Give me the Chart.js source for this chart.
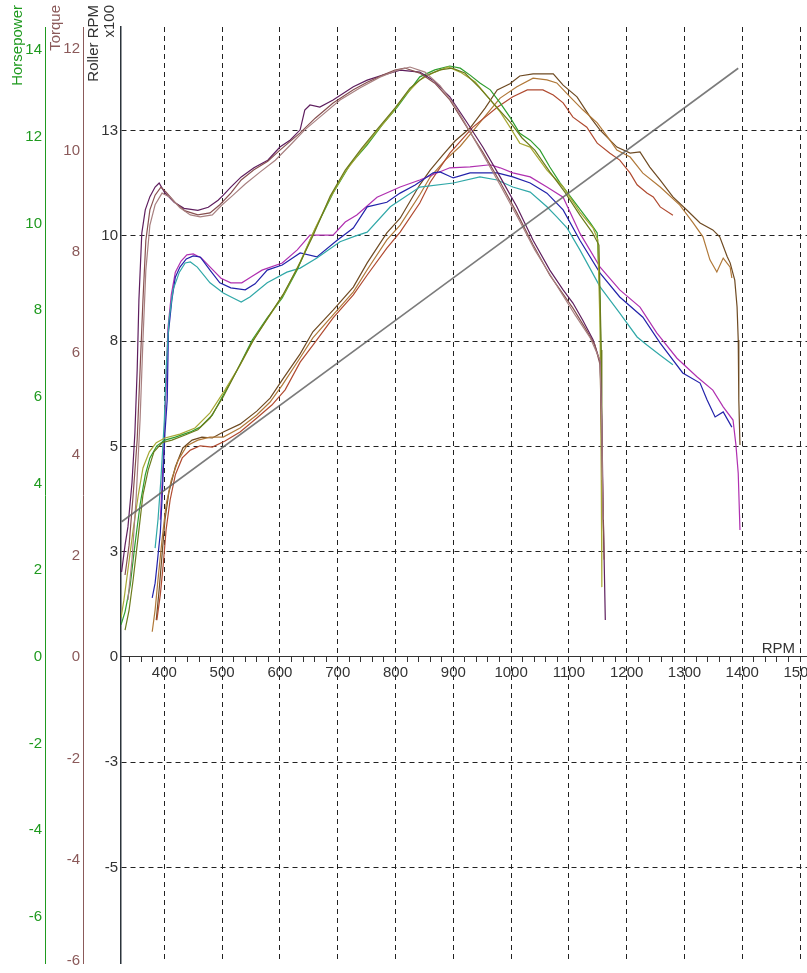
<!DOCTYPE html>
<html>
<head>
<meta charset="utf-8">
<title>Dyno run</title>
<script src="https://cdn.jsdelivr.net/npm/chart.js@4/dist/chart.umd.min.js"></script>
<style>
html, body { margin: 0; padding: 0; background: #fff; overflow: hidden; }
#wrap { width: 807px; height: 973px; }
</style>
</head>
<body>
<div id="wrap"><canvas id="dyno"></canvas></div>
<script>
/* axis ticks */
var rpmMajor = [400, 500, 600, 700, 800, 900, 1000, 1100, 1200, 1300, 1400, 1500];
var rollerTicks = [-5, -2.5, 0, 2.5, 5, 7.5, 10, 12.5];
var hpTicks = [-6, -4, -2, 0, 2, 4, 6, 8, 10, 12, 14];
var tqTicks = [-6, -4, -2, 0, 2, 4, 6, 8, 10, 12];

/* run 1 torque */
var rpmTqPurple = [326,332,337,344,349,353,356,361,367,375,384,391,400,417,434,458,476,493,502,515,533,555,579,600,618,635,643,652,669,692,727,751,778,808,842,865,894,924,951,981,1010,1038,1067,1090,1107,1124,1142,1154,1157,1159,1163];
var tqPurple = [1.68,2.21,2.57,3.44,4.42,5.67,7.05,8.37,8.83,9.09,9.28,9.36,9.18,8.98,8.86,8.82,8.88,9.02,9.12,9.28,9.48,9.66,9.81,10.07,10.21,10.41,10.80,10.90,10.86,11.00,11.26,11.39,11.49,11.59,11.55,11.39,11.06,10.55,10.07,9.48,8.89,8.23,7.64,7.25,6.99,6.65,6.26,5.83,4.68,3.10,0.73];
var rpmTqBrown = [332,339,346,353,358,363,368,375,384,394,403,419,436,458,479,496,515,533,555,579,600,635,661,692,727,751,778,799,816,842,868,894,924,951,981,1010,1038,1067,1107,1128,1145,1154,1157,1161];
var tqBrown = [1.62,2.21,3.20,4.29,5.67,7.05,8.23,8.83,9.12,9.28,9.18,8.97,8.81,8.73,8.77,8.93,9.16,9.42,9.62,9.79,10.01,10.35,10.64,10.94,11.20,11.35,11.49,11.59,11.63,11.53,11.33,11.00,10.45,9.97,9.38,8.77,8.14,7.54,6.89,6.50,6.16,5.77,4.09,1.92];
var rpmTqRose = [337,344,351,358,363,368,375,384,396,410,427,445,462,483,500,517,540,566,592,618,643,669,704,739,773,804,825,851,877,903,929,955,981,1012,1041,1076,1111,1137,1154,1157,1159];
var tqRose = [1.13,1.92,3.10,4.68,6.26,7.64,8.53,8.93,9.16,9.08,8.87,8.73,8.69,8.73,8.93,9.10,9.34,9.58,9.81,10.11,10.41,10.66,11.00,11.24,11.45,11.59,11.65,11.55,11.28,10.88,10.37,9.85,9.32,8.67,8.04,7.39,6.75,6.30,5.86,4.48,2.71];

/* run 1 horsepower */
var rpmHpGreen = [325,332,341,349,358,367,375,387,401,419,445,462,483,502,526,552,578,604,630,657,692,721,751,777,803,825,842,868,894,912,929,946,964,981,998,1015,1033,1050,1067,1085,1107,1124,1137,1149,1154,1156];
var hpGreen = [0.74,1.04,1.66,2.58,3.51,4.20,4.59,4.87,5.00,5.07,5.19,5.30,5.58,6.04,6.62,7.31,7.82,8.28,8.93,9.76,10.70,11.35,11.81,12.27,12.68,13.08,13.38,13.54,13.63,13.58,13.42,13.24,13.08,12.78,12.45,12.08,11.92,11.69,11.30,10.93,10.54,10.24,10.01,9.78,8.23,5.93];
var rpmHpOlive = [325,330,337,346,355,363,374,386,401,427,453,479,505,531,557,583,609,635,661,687,713,739,765,791,817,842,868,891,912,938,964,981,998,1015,1033,1062,1090,1119,1142,1150,1154,1156,1157];
var hpOlive = [0.90,1.31,2.01,2.93,3.74,4.36,4.73,4.94,5.05,5.14,5.28,5.63,6.16,6.73,7.38,7.89,8.42,9.11,9.89,10.59,11.19,11.65,12.08,12.50,12.96,13.31,13.49,13.61,13.49,13.26,12.85,12.57,12.22,11.85,11.76,11.23,10.84,10.26,9.89,9.62,7.54,4.08,1.61];
var rpmHpDark = [332,339,346,355,363,372,382,396,413,436,458,479,502,528,552,579,605,631,657,687,713,742,770,799,825,851,877,898,920,946,972,998,1019,1041,1067,1093,1119,1140,1152,1156,1157];
var hpDark = [0.62,1.08,1.78,2.81,3.74,4.31,4.73,4.94,5.00,5.12,5.24,5.51,6.00,6.67,7.26,7.82,8.35,8.99,9.71,10.63,11.23,11.74,12.20,12.66,13.12,13.40,13.54,13.58,13.47,13.12,12.73,12.34,11.97,11.69,11.19,10.72,10.19,9.80,9.50,7.08,4.77];

/* run 2 torque */
var rpmTqBlue = [379,384,387,393,396,401,405,407,413,419,427,438,450,462,479,496,515,540,557,578,604,635,664,699,727,751,785,808,834,865,877,900,929,976,1003,1033,1062,1090,1119,1154,1188,1228,1258,1297,1327,1339,1353,1367,1382];
var tqBlue = [1.17,1.46,1.78,2.45,3.10,4.42,5.08,6.40,7.05,7.50,7.70,7.86,7.92,7.90,7.64,7.39,7.29,7.25,7.37,7.64,7.74,7.98,7.90,8.23,8.47,8.89,8.98,9.16,9.32,9.56,9.58,9.46,9.56,9.56,9.48,9.36,9.16,8.83,8.23,7.58,7.11,6.71,6.20,5.61,5.41,5.08,4.74,4.84,4.54];
var rpmTqMagenta = [393,398,403,406,412,419,429,439,450,464,481,498,515,534,552,569,604,630,652,692,713,733,768,808,842,894,929,964,981,1003,1033,1062,1090,1119,1154,1188,1223,1252,1287,1322,1349,1367,1384,1389,1393,1396];
var tqMagenta = [2.71,3.89,5.27,6.46,7.15,7.60,7.82,7.94,7.96,7.88,7.68,7.48,7.39,7.39,7.52,7.64,7.78,8.04,8.33,8.33,8.59,8.73,9.08,9.28,9.42,9.66,9.68,9.72,9.66,9.56,9.48,9.28,9.08,8.37,7.70,7.25,6.91,6.40,5.90,5.53,5.27,4.94,4.68,4.19,3.63,2.51];
var rpmTqCyan = [384,389,394,400,403,408,415,426,436,445,457,479,502,519,533,548,578,612,635,664,704,730,751,791,842,900,946,976,1003,1033,1062,1079,1097,1119,1154,1188,1218,1235,1258,1280];
var tqCyan = [2.15,2.71,3.50,4.68,5.67,6.65,7.25,7.60,7.78,7.80,7.70,7.39,7.19,7.09,7.01,7.11,7.39,7.60,7.68,7.88,8.20,8.31,8.39,8.89,9.28,9.36,9.48,9.42,9.28,9.18,8.89,8.69,8.47,8.04,7.31,6.79,6.32,6.16,5.96,5.77];

/* run 2 horsepower */
var rpmHpUmber = [386,391,396,401,408,419,432,448,465,483,502,531,560,583,604,635,657,692,727,751,785,808,842,860,882,903,929,955,976,998,1015,1038,1073,1090,1114,1137,1154,1183,1206,1223,1240,1258,1280,1304,1327,1349,1361,1374,1379,1387,1391,1393,1394,1396];
var hpUmber = [0.85,1.55,2.35,3.16,3.81,4.38,4.82,5.00,5.07,5.05,5.19,5.37,5.67,5.97,6.39,6.99,7.50,8.00,8.53,9.09,9.78,10.12,10.89,11.23,11.58,11.90,12.20,12.66,13.08,13.22,13.40,13.45,13.45,13.19,12.92,12.45,12.15,11.76,11.62,11.65,11.30,11.00,10.61,10.31,10.01,9.85,9.69,9.23,9.09,8.69,8.07,7.31,5.93,4.89];
var rpmHpOrange = [379,384,389,396,403,412,424,439,458,479,502,531,560,583,604,635,657,692,727,751,785,808,842,860,886,912,938,964,981,1010,1038,1062,1079,1102,1124,1149,1171,1183,1206,1228,1258,1292,1315,1332,1344,1356,1367,1379,1382];
var hpOrange = [0.58,1.08,1.78,2.70,3.51,4.08,4.54,4.87,5.00,5.07,5.07,5.28,5.58,5.88,6.27,6.90,7.36,7.89,8.42,8.93,9.62,9.96,10.66,11.07,11.46,11.78,12.20,12.62,12.89,13.15,13.35,13.31,13.24,12.92,12.62,12.32,11.92,11.69,11.53,11.16,10.84,10.42,10.01,9.69,9.16,8.88,9.20,8.99,8.74];
var rpmHpRed = [387,393,398,403,410,419,431,445,462,483,505,531,560,586,609,635,661,692,727,751,785,808,842,860,894,934,976,1003,1028,1055,1073,1090,1107,1131,1149,1171,1188,1206,1218,1235,1246,1258,1280];
var hpRed = [0.85,1.43,2.12,2.93,3.62,4.20,4.59,4.77,4.87,4.84,4.98,5.19,5.51,5.81,6.16,6.80,7.26,7.82,8.35,8.81,9.43,9.80,10.47,10.95,11.62,12.22,12.68,12.92,13.08,13.08,12.96,12.78,12.45,12.22,11.85,11.62,11.46,11.16,10.89,10.70,10.61,10.38,10.19];

/* roller speed */
var rpmRoller = [326, 860, 1393];
var roller = [3.21, 8.60, 13.98];

var FONT = '"Liberation Sans", Arial, sans-serif';
Chart.defaults.font.family = FONT;
Chart.defaults.font.size = 15;

function pts(rpm, vals) {
    return rpm.map(function(r, i) { return { x: r, y: vals[i] }; });
}
function curve(label, rpm, vals, color, axis, width) {
    return { label: label, data: pts(rpm, vals), borderColor: color, borderWidth: width || 1.2,
             pointRadius: 0, tension: 0, fill: false, yAxisID: axis };
}
function roundHalf(v) { return (v < 0 ? -1 : 1) * Math.round(Math.abs(v)); }

var axisTitles = {
    id: 'axisTitles',
    afterDraw: function(chart) {
        var ctx = chart.ctx;
        function vtext(txt, x, color) {
            ctx.save();
            ctx.translate(x, 5);
            ctx.rotate(-Math.PI / 2);
            ctx.textAlign = 'right';
            ctx.textBaseline = 'middle';
            ctx.fillStyle = color;
            ctx.font = '15px ' + FONT;
            ctx.fillText(txt, 0, 0);
            ctx.restore();
        }
        vtext('Horsepower', 18, '#1f9a1f');
        vtext('Torque', 56, '#8b5a5a');
        vtext('Roller RPM', 94, '#333');
        vtext('x100', 110, '#333');
        var y0 = chart.scales.y.getPixelForValue(0);
        ctx.save();
        ctx.font = '15px ' + FONT;
        ctx.fillStyle = '#333';
        ctx.textAlign = 'right';
        ctx.textBaseline = 'bottom';
        ctx.fillText('RPM', 795, y0 - 1);
        ctx.restore();
    }
};

function leftAxis(width, ticks, min, max, color, weight) {
    return {
        position: 'left', min: min, max: max, weight: weight,
        afterBuildTicks: function(s) { s.ticks = ticks.map(function(v) { return { value: v }; }); },
        afterFit: function(s) { s.width = width; s.paddingTop = 0; s.paddingBottom = 0; },
        ticks: { color: color, padding: 3, autoSkip: false },
        grid: { display: false, drawTicks: false, drawOnChartArea: false },
        border: { display: true, color: color, width: 1 }
    };
}

new Chart(document.getElementById('dyno'), {
    type: 'line',
    data: {
        datasets: [
            curve('Roller', rpmRoller, roller, 'rgba(100,100,100,0.85)', 'y', 1.6),
            curve('Torque 1a', rpmTqRose, tqRose, '#a88080', 'yT'),
            curve('Torque 1b', rpmTqBrown, tqBrown, '#875050', 'yT'),
            curve('Torque 1c', rpmTqPurple, tqPurple, '#5e1e5e', 'yT'),
            curve('HP 1a', rpmHpDark, hpDark, '#6b7b1b', 'yH'),
            curve('HP 1b', rpmHpOlive, hpOlive, '#a8a834', 'yH'),
            curve('HP 1c', rpmHpGreen, hpGreen, '#2e9e2e', 'yH'),
            curve('Torque 2a', rpmTqCyan, tqCyan, '#30a8a8', 'yT'),
            curve('Torque 2b', rpmTqBlue, tqBlue, '#2222aa', 'yT'),
            curve('Torque 2c', rpmTqMagenta, tqMagenta, '#b030b0', 'yT'),
            curve('HP 2a', rpmHpRed, hpRed, '#b04a30', 'yH'),
            curve('HP 2b', rpmHpOrange, hpOrange, '#b07838', 'yH'),
            curve('HP 2c', rpmHpUmber, hpUmber, '#6e4a22', 'yH')
        ]
    },
    options: {
        responsive: true,
        maintainAspectRatio: false,
        animation: false,
        events: [],
        layout: { padding: { top: 27, bottom: 10, left: 0, right: 0 } },
        plugins: { legend: { display: false }, tooltip: { enabled: false } },
        scales: {
            x: {
                type: 'linear', min: 325, max: 1512, position: { y: 0 },
                afterBuildTicks: function(s) {
                    var t = [];
                    for (var v = 340; v <= 1500; v += 20) t.push({ value: v });
                    s.ticks = t;
                },
                afterFit: function(s) { s.paddingLeft = 0; s.paddingRight = 0; },
                ticks: {
                    autoSkip: false, maxRotation: 0, padding: 2, color: '#333',
                    callback: function(v) { return rpmMajor.indexOf(v) >= 0 ? String(v) : ''; }
                },
                grid: {
                    color: function(c) { return (c.tick && rpmMajor.indexOf(c.tick.value) >= 0) ? '#222' : 'rgba(0,0,0,0)'; },
                    tickColor: '#333', tickLength: 5, drawTicks: true
                },
                border: { display: true, color: '#333', width: 1, dash: [5, 4] }
            },
            y: {
                position: 'left', min: -7.27, max: 14.96, weight: 0,
                afterBuildTicks: function(s) { s.ticks = rollerTicks.map(function(v) { return { value: v }; }); },
                afterFit: function(s) { s.width = 38; s.paddingTop = 0; s.paddingBottom = 0; },
                ticks: { color: '#333', padding: 3, autoSkip: false, callback: function(v) { return String(roundHalf(v)); } },
                grid: {
                    color: function(c) { return (c.tick && c.tick.value === 0) ? 'rgba(0,0,0,0)' : '#222'; },
                    drawTicks: false
                },
                border: { display: true, color: '#2b333b', width: 1.5, dash: [5, 4] }
            },
            yT: leftAxis(38, tqTicks, -6.04, 12.44, '#8b5a5a', 1),
            yH: leftAxis(45, hpTicks, -7.06, 14.53, '#1f9a1f', 2)
        }
    },
    plugins: [axisTitles]
});
</script>
</body>
</html>
